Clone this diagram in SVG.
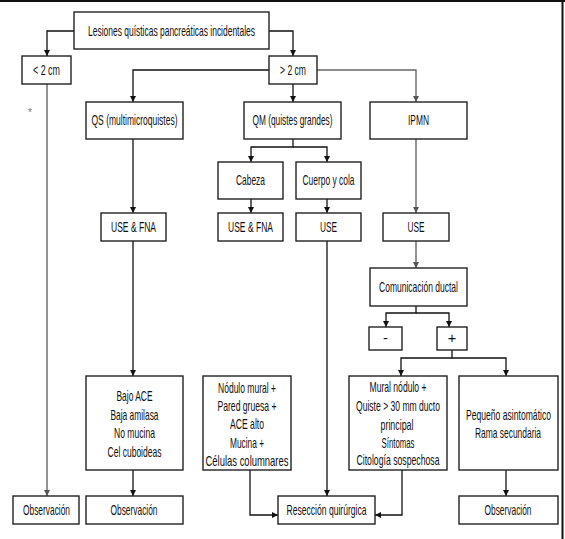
<svg xmlns="http://www.w3.org/2000/svg" width="565" height="539" viewBox="0 0 565 539">
<defs>
<marker id="ah" viewBox="0 0 10 10" refX="10" refY="5" markerWidth="6" markerHeight="8" markerUnits="userSpaceOnUse" orient="auto">
<path d="M0,0 L10,5 L0,10 z" fill="#111"/>
</marker>
<marker id="ahg" viewBox="0 0 10 10" refX="10" refY="5" markerWidth="6" markerHeight="8" markerUnits="userSpaceOnUse" orient="auto">
<path d="M0,0 L10,5 L0,10 z" fill="#555"/>
</marker>
</defs>
<style>
.b{fill:#fff;stroke:#222;stroke-width:1.4}
.t{font-family:"Liberation Sans Narrow","Liberation Sans",Arial,sans-serif;font-size:14.5px;fill:#111;text-anchor:middle}
.c{fill:none;stroke:#111;stroke-width:1.3;marker-end:url(#ah)}
.g{fill:none;stroke:#666;stroke-width:1.4;marker-end:url(#ahg)}
</style>
<rect width="565" height="539" fill="#fff"/>
<line x1="0" y1="1" x2="565" y2="1" stroke="#111" stroke-width="2"/>
<line x1="562.5" y1="0" x2="562.5" y2="539" stroke="#111" stroke-width="2"/>

<g id="connectors">
<path class="c" d="M74,31 H47 V56"/>
<path class="c" d="M269,31 H293 V56"/>
<path class="c" d="M269,70 H133 V102"/>
<path class="c" d="M293,84 V102"/>
<path class="g" d="M317,70 H416 V102"/>
<path class="g" d="M47,84 V496"/>
<path class="c" d="M133,139 V213"/>
<path class="c" d="M293,139 V147 H251 V162"/>
<path class="c" d="M293,147 H327 V162"/>
<path class="c" d="M251,199 V213"/>
<path class="c" d="M327,199 V213"/>
<path class="g" d="M416,139 V213"/>
<path class="c" d="M133,241 V376"/>
<path class="g" d="M416,241 V268"/>
<path class="c" d="M416,306 V313 H386 V327"/>
<path class="c" d="M416,313 H449 V327"/>
<path class="c" d="M452,350 V358 H401 V376"/>
<path class="c" d="M452,358 H506 V376"/>
<path class="c" d="M133,470 V496"/>
<path class="c" d="M506,470 V496"/>
<path class="c" d="M327,241 V496"/>
<path class="c" d="M250,470 V515 H278"/>
<path class="c" d="M402,470 V515 H375"/>
</g>

<text x="30" y="116" font-family="Liberation Sans,Arial,sans-serif" font-size="10" fill="#777" text-anchor="middle">*</text>

<g id="n-root"><rect class="b" x="74" y="12" width="195" height="37"/><text class="t" x="171.5" y="36" textLength="167" lengthAdjust="spacingAndGlyphs">Lesiones quísticas pancreáticas incidentales</text></g>
<g id="n-lt2"><rect class="b" x="22" y="56" width="49" height="28"/><text class="t" x="46.5" y="75" textLength="27" lengthAdjust="spacingAndGlyphs">&lt; 2 cm</text></g>
<g id="n-gt2"><rect class="b" x="269" y="56" width="48" height="28"/><text class="t" x="293" y="75" textLength="26" lengthAdjust="spacingAndGlyphs">&gt; 2 cm</text></g>
<g id="n-qs"><rect class="b" x="86" y="102" width="97" height="37"/><text class="t" x="134.5" y="125" textLength="86" lengthAdjust="spacingAndGlyphs">QS (multimicroquistes)</text></g>
<g id="n-qm"><rect class="b" x="244" y="102" width="97" height="37"/><text class="t" x="292.5" y="125" textLength="80" lengthAdjust="spacingAndGlyphs">QM (quistes grandes)</text></g>
<g id="n-ipmn"><rect class="b" x="370" y="102" width="97" height="37"/><text class="t" x="418.5" y="125" textLength="21" lengthAdjust="spacingAndGlyphs">IPMN</text></g>
<g id="n-cabeza"><rect class="b" x="218" y="162" width="65" height="37"/><text class="t" x="250.5" y="185" textLength="29" lengthAdjust="spacingAndGlyphs">Cabeza</text></g>
<g id="n-cuerpo"><rect class="b" x="296" y="162" width="65" height="37"/><text class="t" x="328.5" y="185" textLength="52" lengthAdjust="spacingAndGlyphs">Cuerpo y cola</text></g>
<g id="n-usefna1"><rect class="b" x="101" y="213" width="65" height="28"/><text class="t" x="133.5" y="232" textLength="45" lengthAdjust="spacingAndGlyphs">USE &amp; FNA</text></g>
<g id="n-usefna2"><rect class="b" x="218" y="213" width="65" height="28"/><text class="t" x="250.5" y="232" textLength="45" lengthAdjust="spacingAndGlyphs">USE &amp; FNA</text></g>
<g id="n-use1"><rect class="b" x="296" y="213" width="65" height="28"/><text class="t" x="328.5" y="232" textLength="17" lengthAdjust="spacingAndGlyphs">USE</text></g>
<g id="n-use2"><rect class="b" x="383" y="213" width="66" height="28"/><text class="t" x="416" y="232" textLength="17" lengthAdjust="spacingAndGlyphs">USE</text></g>
<g id="n-com"><rect class="b" x="370" y="268" width="97" height="38"/><text class="t" x="418.5" y="292" textLength="79" lengthAdjust="spacingAndGlyphs">Comunicación ductal</text></g>
<g id="n-minus"><rect class="b" x="369" y="327" width="33" height="23"/><text class="t" x="385.5" y="343">-</text></g>
<g id="n-plus"><rect class="b" x="437" y="327" width="30" height="23"/><text class="t" x="452" y="343">+</text></g>
<g id="n-bajo"><rect class="b" x="86" y="376" width="97" height="94"/>
<text class="t" x="134.5" y="401" textLength="36" lengthAdjust="spacingAndGlyphs">Bajo ACE</text>
<text class="t" x="134.5" y="419.5" textLength="48" lengthAdjust="spacingAndGlyphs">Baja amilasa</text>
<text class="t" x="134.5" y="438" textLength="41" lengthAdjust="spacingAndGlyphs">No mucina</text>
<text class="t" x="134.5" y="456.5" textLength="54" lengthAdjust="spacingAndGlyphs">Cel cuboideas</text></g>
<g id="n-nodulo"><rect class="b" x="203" y="376" width="88" height="94"/>
<text class="t" x="247" y="392.5" textLength="58" lengthAdjust="spacingAndGlyphs">Nódulo mural +</text>
<text class="t" x="247" y="410.5" textLength="59" lengthAdjust="spacingAndGlyphs">Pared gruesa +</text>
<text class="t" x="247" y="429" textLength="34" lengthAdjust="spacingAndGlyphs">ACE alto</text>
<text class="t" x="247" y="447.5" textLength="34" lengthAdjust="spacingAndGlyphs">Mucina +</text>
<text class="t" x="247" y="465.5" textLength="83" lengthAdjust="spacingAndGlyphs">Células columnares</text></g>
<g id="n-mural"><rect class="b" x="349" y="376" width="98" height="94"/>
<text class="t" x="398" y="391.5" textLength="57" lengthAdjust="spacingAndGlyphs">Mural nódulo +</text>
<text class="t" x="398" y="411" textLength="84" lengthAdjust="spacingAndGlyphs">Quiste &gt; 30 mm ducto</text>
<text class="t" x="397" y="429.5" textLength="33" lengthAdjust="spacingAndGlyphs">principal</text>
<text class="t" x="398" y="447.5" textLength="33" lengthAdjust="spacingAndGlyphs">Síntomas</text>
<text class="t" x="398" y="465" textLength="83" lengthAdjust="spacingAndGlyphs">Citología sospechosa</text></g>
<g id="n-pequeno"><rect class="b" x="459" y="376" width="99" height="94"/>
<text class="t" x="508.5" y="419.5" textLength="85" lengthAdjust="spacingAndGlyphs">Pequeño asintomático</text>
<text class="t" x="508" y="437.5" textLength="66" lengthAdjust="spacingAndGlyphs">Rama secundaria</text></g>
<g id="n-obs1"><rect class="b" x="13" y="496" width="66" height="28"/><text class="t" x="46.5" y="515" textLength="47" lengthAdjust="spacingAndGlyphs">Observación</text></g>
<g id="n-obs2"><rect class="b" x="86" y="496" width="97" height="28"/><text class="t" x="134" y="515" textLength="47" lengthAdjust="spacingAndGlyphs">Observación</text></g>
<g id="n-reseccion"><rect class="b" x="278" y="496" width="97" height="28"/><text class="t" x="326.5" y="515" textLength="80" lengthAdjust="spacingAndGlyphs">Resección quirúrgica</text></g>
<g id="n-obs3"><rect class="b" x="459" y="496" width="99" height="28"/><text class="t" x="508" y="515" textLength="47" lengthAdjust="spacingAndGlyphs">Observación</text></g>
</svg>
